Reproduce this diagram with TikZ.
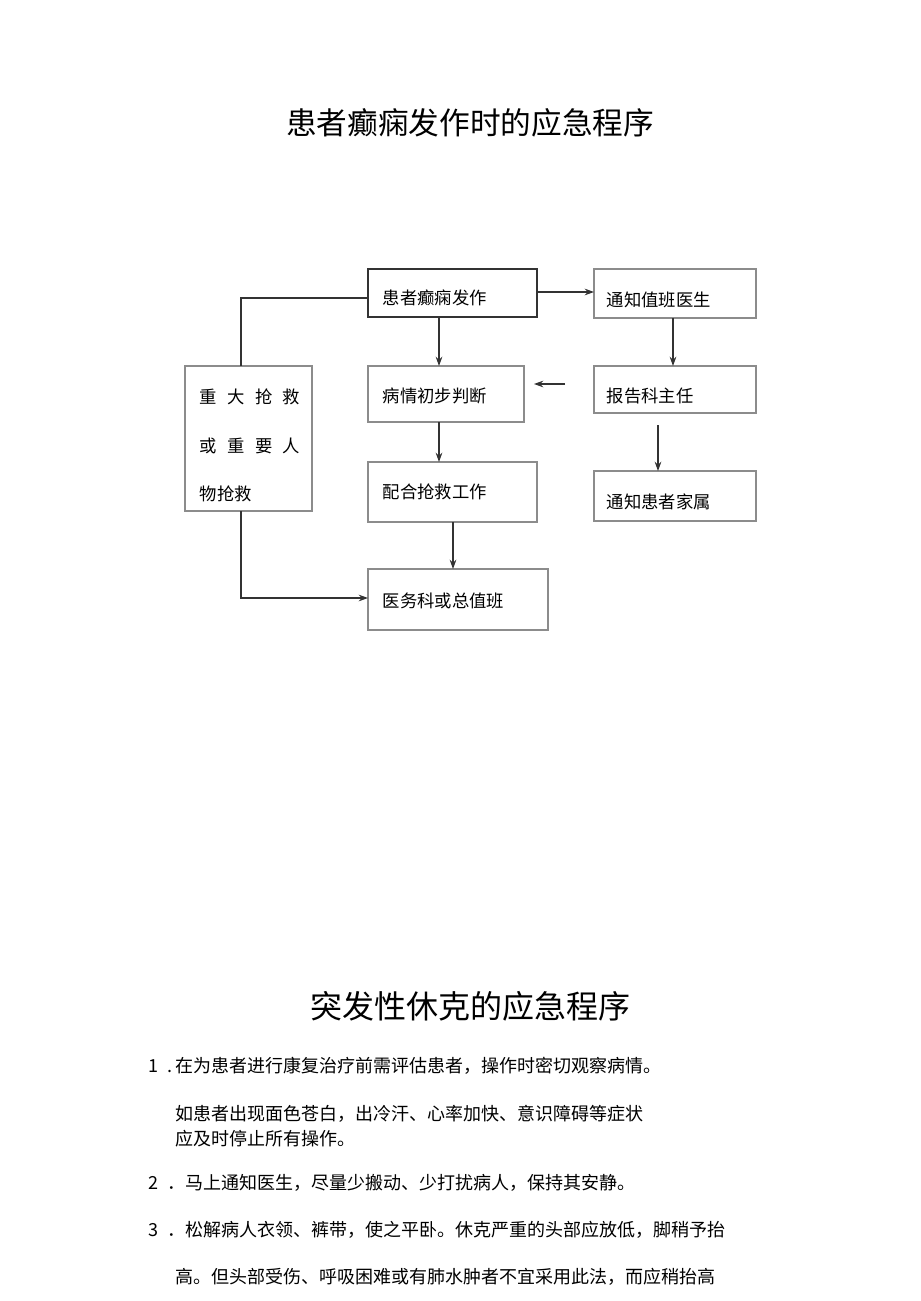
\documentclass[tikz,border=0pt]{standalone}
\usepackage{fontspec}
\newfontfamily\cjk{Noto Sans CJK SC}
\usetikzlibrary{arrows.meta}
\begin{document}
\begin{tikzpicture}[x=0.75pt,y=-0.75pt,
  box/.style={draw=black!45,line width=0.8pt},
  lbl/.style={font=\cjk\fontsize{13}{16}\selectfont,anchor=west},
  arr/.style={-{Stealth[length=7pt,width=5pt]},line width=0.8pt,draw=black!80},
  ln/.style={line width=0.8pt,draw=black!80},
  txt/.style={font=\cjk\fontsize{13.5}{16}\selectfont,anchor=west,inner sep=0pt}]
\useasboundingbox (0,0) rectangle (920,1301);
\node[font=\cjk\fontsize{23}{28}\selectfont] (t1) at (470,123) {患者癫痫发作时的应急程序};
% boxes
\draw[box,draw=black!80,line width=1.1pt] (368,269) rectangle (537,317);
\node[lbl] (a) at (378,298) {患者癫痫发作};
\coordinate (aL) at (368,298); \coordinate (aR) at (537,292);
\draw[box] (594,269) rectangle (756,318);
\node[lbl] (b) at (602,300) {通知值班医生};
\coordinate (bL) at (594,292); \coordinate (bB) at (673,318);
\draw[box] (368,366) rectangle (524,422);
\node[lbl] (c) at (378,396) {病情初步判断};
\coordinate (cT) at (439,366); \coordinate (cB) at (439,422);
\draw[box] (594,366) rectangle (756,413);
\node[lbl] (d) at (602,396) {报告科主任};
\coordinate (dT) at (673,366); \coordinate (dB) at (658,425);
\draw[box] (185,366) rectangle (312,511);
\node[lbl,font=\cjk\fontsize{13}{16}\selectfont] (e1) at (195,397) {重\hspace{0.6em}大\hspace{0.6em}抢\hspace{0.6em}救};
\node[lbl] (e2) at (195,446) {或\hspace{0.6em}重\hspace{0.6em}要\hspace{0.6em}人};
\node[lbl] (e3) at (195,494) {物抢救};
\coordinate (eT) at (241,366); \coordinate (eB) at (241,511);
\draw[box] (368,462) rectangle (537,522);
\node[lbl] (f) at (378,492) {配合抢救工作};
\coordinate (fT) at (439,462); \coordinate (fB) at (453,522);
\draw[box] (594,471) rectangle (756,521);
\node[lbl] (g) at (602,502) {通知患者家属};
\coordinate (gT) at (658,471);
\draw[box] (368,569) rectangle (548,630);
\node[lbl] (h) at (378,601) {医务科或总值班};
\coordinate (hT) at (453,569); \coordinate (hL) at (368,598);
% connectors
\draw[ln] (eT) |- (aL);
\draw[arr] (aR) -- (bL);
\draw[arr] (439,317) -- (cT);
\draw[arr] (bB) -- (dT);
\coordinate (fs) at (565,384); \coordinate (fe) at (534,384);
\draw[arr] (fs) -- (fe);
\draw[arr] (dB) -- (gT);
\draw[arr] (cB) -- (fT);
\draw[arr] (fB) -- (hT);
\draw[arr] (eB) |- (hL);
% second section
\node[font=\cjk\fontsize{24}{28}\selectfont] (t2) at (470,1006) {突发性休克的应急程序};
\node[txt] (p1) at (148,1066) {1\hspace{0.5em}.\,在为患者进行康复治疗前需评估患者，操作时密切观察病情。};
\node[txt] (p2) at (175,1114) {如患者出现面色苍白，出冷汗、心率加快、意识障碍等症状};
\node[txt] (p3) at (175,1139) {应及时停止所有操作。};
\node[txt] (p4) at (148,1183) {2\hspace{0.5em}．马上通知医生，尽量少搬动、少打扰病人，保持其安静。};
\node[txt] (p5) at (148,1230) {3\hspace{0.5em}．松解病人衣领、裤带，使之平卧。休克严重的头部应放低，脚稍予抬};
\node[txt] (p6) at (175,1277) {高。但头部受伤、呼吸困难或有肺水肿者不宜采用此法，而应稍抬高};
\end{tikzpicture}
\end{document}
